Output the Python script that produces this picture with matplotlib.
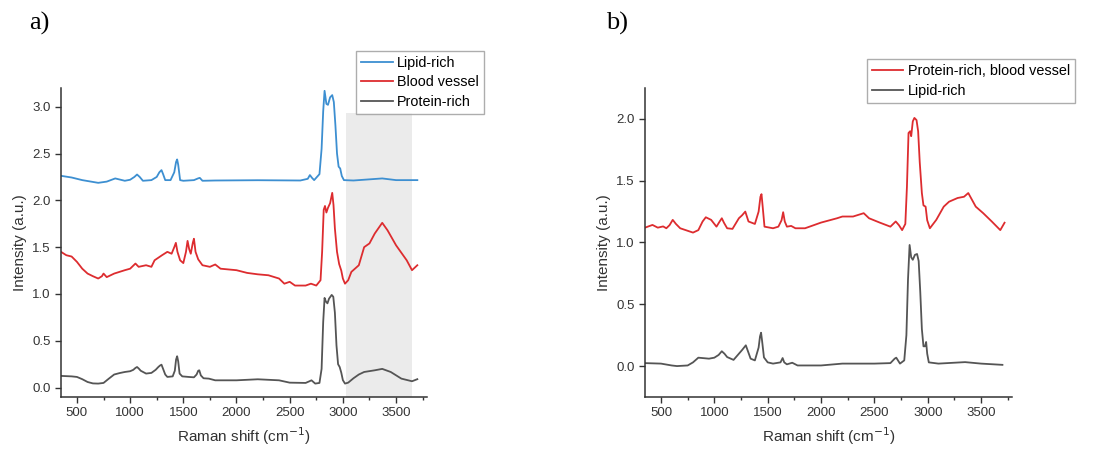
import numpy as np
import matplotlib
matplotlib.use("Agg")
import matplotlib.pyplot as plt

plt.rcParams['font.family'] = ['Liberation Sans', 'DejaVu Sans']

# ---- panel a) spectra (Raman shift in cm^-1, intensity a.u.) ----
a_prot_x = [350, 450, 500, 550, 600, 650, 700, 750, 800, 850, 900, 950, 1000, 1030, 1050, 1065, 1080,
            1100, 1150, 1200, 1240, 1265, 1280, 1295, 1310, 1330, 1350, 1400, 1420, 1432, 1442, 1452,
            1465, 1490, 1550, 1600, 1625, 1640, 1650, 1665, 1690, 1740, 1800, 2000, 2200, 2400, 2500,
            2650, 2690, 2705, 2740, 2780, 2800, 2815, 2828, 2840, 2855, 2870, 2895, 2910, 2925, 2940,
            2955, 2970, 2985, 3000, 3020, 3050, 3100, 3150, 3200, 3300, 3370, 3450, 3550, 3650, 3700]
a_prot_y = [0.125, 0.12, 0.114, 0.09, 0.06, 0.045, 0.043, 0.05, 0.096, 0.14, 0.155, 0.167, 0.175, 0.19, 0.21, 0.22, 0.205,
            0.18, 0.15, 0.157, 0.19, 0.22, 0.235, 0.245, 0.2, 0.14, 0.114, 0.12, 0.18, 0.30, 0.335, 0.28,
            0.15, 0.12, 0.114, 0.11, 0.14, 0.18, 0.185, 0.13, 0.10, 0.096, 0.078, 0.078, 0.089, 0.078, 0.053,
            0.05, 0.07, 0.078, 0.043, 0.05, 0.20, 0.70, 0.958, 0.92, 0.90, 0.95, 0.99, 0.97, 0.80, 0.45,
            0.25, 0.22, 0.16, 0.08, 0.043, 0.053, 0.10, 0.14, 0.167, 0.185, 0.20, 0.167, 0.096, 0.068, 0.09]

a_blood_x = [350, 400, 450, 500, 550, 600, 650, 700, 735, 750, 780, 850, 950, 1000, 1050, 1080, 1150, 1200,
             1230, 1300, 1350, 1390, 1415, 1430, 1445, 1470, 1500, 1525, 1540, 1555, 1570, 1590, 1600, 1615,
             1640, 1680, 1750, 1800, 1850, 2000, 2100, 2200, 2300, 2400, 2450, 2500, 2550, 2650, 2700, 2750,
             2790, 2805, 2820, 2832, 2845, 2860, 2880, 2900, 2912, 2925, 2945, 2965, 2985, 3000, 3020, 3050,
             3080, 3150, 3200, 3250, 3300, 3370, 3420, 3500, 3600, 3650, 3700]
a_blood_y = [1.45, 1.414, 1.40, 1.343, 1.27, 1.218, 1.19, 1.165, 1.19, 1.218, 1.18, 1.218, 1.254, 1.27, 1.325, 1.29, 1.307, 1.29,
             1.36, 1.414, 1.45, 1.43, 1.50, 1.546, 1.45, 1.36, 1.33, 1.45, 1.567, 1.48, 1.43, 1.55, 1.59, 1.45,
             1.37, 1.307, 1.29, 1.315, 1.27, 1.254, 1.225, 1.21, 1.20, 1.165, 1.11, 1.13, 1.09, 1.09, 1.11, 1.09,
             1.147, 1.45, 1.90, 1.94, 1.87, 1.92, 1.97, 2.08, 1.95, 1.70, 1.45, 1.32, 1.25, 1.165, 1.11, 1.147,
             1.236, 1.307, 1.50, 1.54, 1.646, 1.76, 1.68, 1.52, 1.36, 1.254, 1.307]

a_lipid_x = [350, 450, 550, 700, 780, 860, 950, 1000, 1040, 1065, 1090, 1120, 1200, 1250, 1275, 1295, 1310, 1330,
             1380, 1415, 1432, 1442, 1452, 1470, 1500, 1600, 1640, 1655, 1680, 1800, 2200, 2600, 2670, 2690,
             2710, 2730, 2780, 2800, 2815, 2828, 2845, 2860, 2880, 2900, 2915, 2930, 2945, 2960, 2975, 2990,
             3010, 3100, 3370, 3500, 3700]
a_lipid_y = [2.262, 2.244, 2.216, 2.187, 2.20, 2.234, 2.209, 2.22, 2.25, 2.276, 2.25, 2.209, 2.216, 2.25, 2.30, 2.323, 2.28, 2.216,
             2.216, 2.30, 2.41, 2.437, 2.38, 2.216, 2.209, 2.216, 2.235, 2.24, 2.209, 2.212, 2.215, 2.212, 2.23, 2.27,
             2.24, 2.216, 2.28, 2.55, 2.95, 3.17, 3.03, 3.02, 3.10, 3.124, 3.05, 2.80, 2.50, 2.36, 2.34, 2.26,
             2.216, 2.212, 2.234, 2.216, 2.216]

shade_lo, shade_hi, shade_top = 3030, 3650, 2.93

# ---- panel b) spectra ----
b_red_x = [350, 420, 470, 520, 550, 580, 610, 640, 680, 800, 850, 890, 920, 970, 1020, 1050, 1070, 1090,
           1120, 1170, 1230, 1260, 1290, 1305, 1320, 1380, 1415, 1432, 1442, 1452, 1470, 1550, 1600, 1630,
           1645, 1660, 1680, 1720, 1760, 1850, 2000, 2150, 2200, 2300, 2400, 2450, 2550, 2650, 2700, 2730,
           2760, 2790, 2805, 2820, 2835, 2845, 2860, 2875, 2895, 2910, 2925, 2945, 2960, 2980, 2995, 3020,
           3080, 3150, 3200, 3280, 3340, 3380, 3450, 3520, 3600, 3680, 3720]
b_red_y = [1.12, 1.142, 1.12, 1.13, 1.115, 1.14, 1.183, 1.15, 1.115, 1.08, 1.10, 1.17, 1.204, 1.183, 1.128, 1.17, 1.196, 1.16,
           1.115, 1.11, 1.196, 1.22, 1.25, 1.21, 1.17, 1.15, 1.25, 1.37, 1.391, 1.30, 1.128, 1.115, 1.128, 1.18,
           1.245, 1.17, 1.128, 1.134, 1.115, 1.115, 1.161, 1.196, 1.21, 1.21, 1.237, 1.196, 1.161, 1.128, 1.17, 1.14,
           1.10, 1.15, 1.45, 1.886, 1.90, 1.86, 1.98, 2.008, 1.99, 1.90, 1.65, 1.40, 1.30, 1.29, 1.18, 1.115,
           1.183, 1.29, 1.33, 1.36, 1.37, 1.40, 1.29, 1.237, 1.17, 1.10, 1.16]

b_gray_x = [350, 500, 600, 650, 750, 800, 850, 950, 1000, 1040, 1070, 1095, 1120, 1180, 1230, 1260, 1295, 1315,
            1340, 1380, 1415, 1428, 1438, 1448, 1465, 1500, 1550, 1620, 1640, 1655, 1680, 1730, 1780, 2000,
            2200, 2500, 2650, 2690, 2705, 2740, 2780, 2800, 2815, 2830, 2845, 2860, 2880, 2900, 2915, 2930,
            2945, 2960, 2975, 2985, 2995, 3010, 3100, 3350, 3500, 3700]
b_gray_y = [0.024, 0.02, 0.005, 0.0, 0.005, 0.03, 0.068, 0.06, 0.068, 0.09, 0.12, 0.10, 0.073, 0.05, 0.10, 0.13, 0.168, 0.12,
            0.06, 0.046, 0.15, 0.24, 0.27, 0.20, 0.07, 0.03, 0.02, 0.03, 0.065, 0.03, 0.014, 0.027, 0.005, 0.005,
            0.02, 0.02, 0.024, 0.06, 0.068, 0.02, 0.046, 0.25, 0.70, 0.98, 0.88, 0.86, 0.90, 0.907, 0.85, 0.60,
            0.30, 0.16, 0.16, 0.195, 0.10, 0.03, 0.02, 0.032, 0.02, 0.01]

blue = '#3d8fd1'
red = '#dd2c2f'
gray = '#555555'

fig = plt.figure(figsize=(11.19, 4.54), dpi=100)
ax1 = fig.add_axes([0.0545, 0.1256, 0.327, 0.6806])
ax2 = fig.add_axes([0.5764, 0.1256, 0.328, 0.6806])


def style(ax):
    for s in ['top', 'right']:
        ax.spines[s].set_visible(False)
    for s in ['left', 'bottom']:
        ax.spines[s].set_color('#333333')
        ax.spines[s].set_linewidth(1.1)
    ax.set_xlim(350, 3790)
    ax.set_xticks([500, 1000, 1500, 2000, 2500, 3000, 3500])
    ax.set_xticks(np.arange(750, 3800, 500), minor=True)
    ax.tick_params(direction='out', length=4, width=1, labelsize=9.5, colors='#333333')
    ax.tick_params(which='minor', direction='out', length=2.5, width=1, colors='#333333')
    ax.set_xlabel('Raman shift (cm$^{-1}$)', fontsize=11, color='#333333', labelpad=4)
    ax.set_ylabel('Intensity (a.u.)', fontsize=11, color='#333333', labelpad=4)


def add_legend(ax, anchor):
    ax.legend(loc='upper left', bbox_to_anchor=anchor, bbox_transform=fig.transFigure,
              frameon=True, fancybox=False, edgecolor='#999999', fontsize=10.4,
              handlelength=2.2, borderpad=0.35, labelspacing=0.38, handletextpad=0.3,
              borderaxespad=0)


# panel a
ax1.fill_between([shade_lo, shade_hi], -0.1, shade_top, color='#ebebeb', lw=0, zorder=0)
ax1.plot(a_lipid_x, a_lipid_y, color=blue, lw=1.3, label='Lipid-rich')
ax1.plot(a_blood_x, a_blood_y, color=red, lw=1.3, label='Blood vessel')
ax1.plot(a_prot_x, a_prot_y, color=gray, lw=1.3, label='Protein-rich')
style(ax1)
ax1.set_ylim(-0.1, 3.2)
ax1.set_yticks([0.0, 0.5, 1.0, 1.5, 2.0, 2.5, 3.0])
add_legend(ax1, (0.318, 0.888))

# panel b
ax2.plot(b_red_x, b_red_y, color=red, lw=1.3, label='Protein-rich, blood vessel')
ax2.plot(b_gray_x, b_gray_y, color=gray, lw=1.3, label='Lipid-rich')
style(ax2)
ax2.set_ylim(-0.25, 2.25)
ax2.set_yticks([0.0, 0.5, 1.0, 1.5, 2.0])
add_legend(ax2, (0.7745, 0.87))

fig.text(0.035, 0.948, 'a)', family=['Liberation Serif', 'DejaVu Serif'], fontsize=19, va='center', ha='center')
fig.text(0.551, 0.948, 'b)', family=['Liberation Serif', 'DejaVu Serif'], fontsize=19, va='center', ha='center')

fig.savefig('out.png', dpi=100)
